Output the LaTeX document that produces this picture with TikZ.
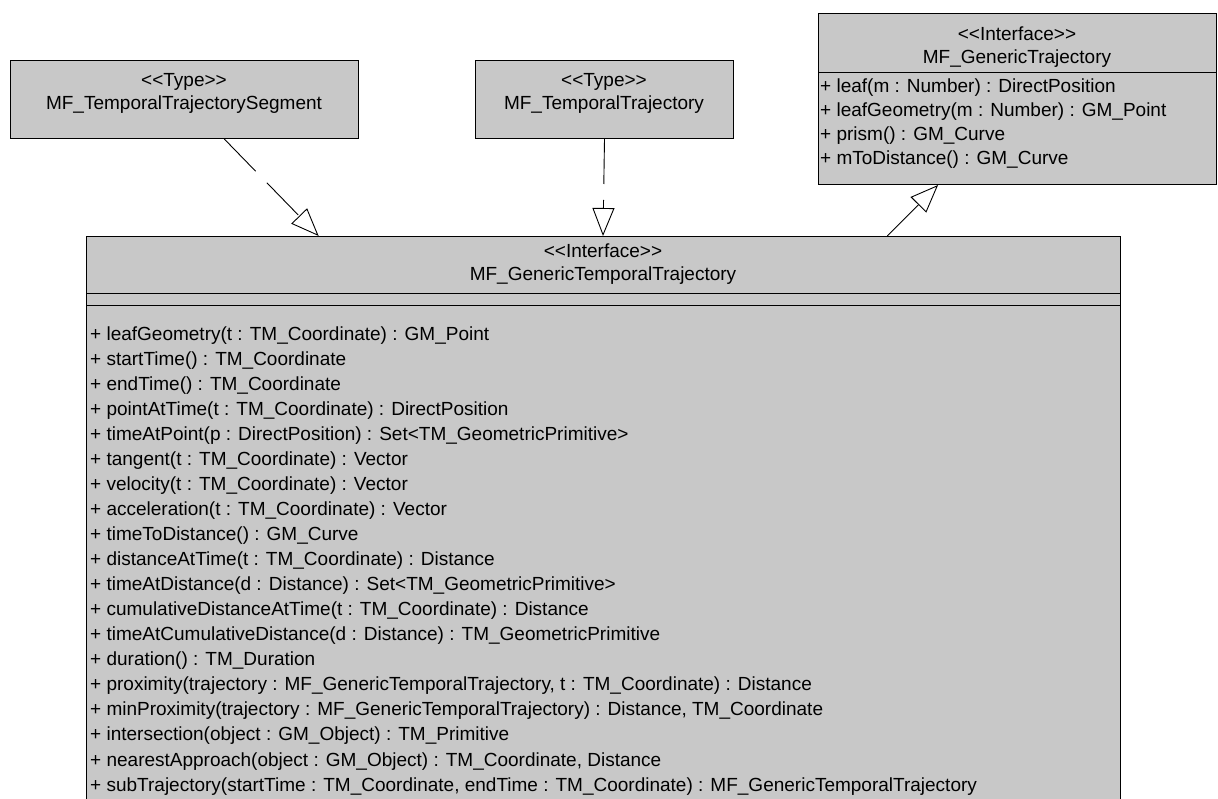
\documentclass[tikz,border=0pt]{standalone}
\usepackage{fontspec}
\setmainfont{Liberation Sans}
\usetikzlibrary{arrows.meta,calc}
\definecolor{boxgray}{RGB}{200,200,200}
\begin{document}
\begin{tikzpicture}[x=1pt,y=-1pt,
  box/.style={draw=black,fill=boxgray,line width=1pt,anchor=north west,inner sep=0pt},
  lbl/.style={font=\fontsize{19pt}{22pt}\selectfont,inner sep=0pt,anchor=base},
  op/.style={font=\fontsize{19pt}{22pt}\selectfont,inner sep=0pt,anchor=base west},
  divider/.style={line width=1pt},
  realize/.style={line width=0.9pt,dash pattern=on 45pt off 16pt,-{Triangle[open,length=28pt,width=22pt,line width=0.9pt]}},
  general/.style={line width=0.9pt,-{Triangle[open,length=28pt,width=22pt,line width=0.9pt]}}]
\useasboundingbox (0,0) rectangle (1218,798);
\clip (0,0) rectangle (1218,798);
% boxes
\node[box,minimum width=348pt,minimum height=78pt] (b1) at (10,60) {};
\node[box,minimum width=258pt,minimum height=78pt] (b2) at (475,60) {};
\node[box,minimum width=398pt,minimum height=171pt] (b3) at (818,13) {};
\fill[boxgray] (86,236) rectangle (1120,805);
\draw[line width=1pt] (86,805) -- (86,236) -- (1120,236) -- (1120,805);
\coordinate (mtl) at (86,236);
\coordinate (mtr) at (1120,236);
% box texts
\node[lbl] (b1s) at (184,86) {<{}<Type>{}>};
\node[lbl] (b1n) at (184,109) {MF\_TemporalTrajectorySegment};
\node[lbl] (b2s) at (604,86) {<{}<Type>{}>};
\node[lbl] (b2n) at (604,109) {MF\_TemporalTrajectory};
\node[lbl] (b3s) at (1017,40) {<{}<Interface>{}>};
\node[lbl] (b3n) at (1017,63) {MF\_GenericTrajectory};
\draw[divider] (818,72) -- (1216,72);
\foreach \t [count=\i from 0] in {%
  + leaf(m : Number) : DirectPosition,
  + leafGeometry(m : Number) : GM\_Point,
  + prism() : GM\_Curve,
  + mToDistance() : GM\_Curve}
  \node[op] (b3o\i) at (820,92+24.3*\i) {\t};
% main box
\node[lbl] (ms) at (603,257) {<{}<Interface>{}>};
\node[lbl] (mn) at (603,280) {MF\_GenericTemporalTrajectory};
\draw[divider] (86,293) -- (1120,293);
\draw[divider] (86,305) -- (1120,305);
\foreach \t [count=\i from 0] in {%
  + leafGeometry(t : TM\_Coordinate) : GM\_Point,
  + startTime() : TM\_Coordinate,
  + endTime() : TM\_Coordinate,
  + pointAtTime(t : TM\_Coordinate) : DirectPosition,
  + timeAtPoint(p : DirectPosition) : Set<TM\_GeometricPrimitive>,
  + tangent(t : TM\_Coordinate) : Vector,
  + velocity(t : TM\_Coordinate) : Vector,
  + acceleration(t : TM\_Coordinate) : Vector,
  + timeToDistance() : GM\_Curve,
  + distanceAtTime(t : TM\_Coordinate) : Distance,
  + timeAtDistance(d : Distance) : Set<TM\_GeometricPrimitive>,
  + cumulativeDistanceAtTime(t : TM\_Coordinate) : Distance,
  + timeAtCumulativeDistance(d : Distance) : TM\_GeometricPrimitive,
  + duration() : TM\_Duration,
  + proximity(trajectory : MF\_GenericTemporalTrajectory{,} t : TM\_Coordinate) : Distance,
  + minProximity(trajectory : MF\_GenericTemporalTrajectory) : Distance{,} TM\_Coordinate,
  + intersection(object : GM\_Object) : TM\_Primitive,
  + nearestApproach(object : GM\_Object) : TM\_Coordinate{,} Distance,
  + subTrajectory(startTime : TM\_Coordinate{,} endTime : TM\_Coordinate) : MF\_GenericTemporalTrajectory}
  \node[op] (mo\i) at (90,340+25.06*\i) {\t};
% connectors
\coordinate (a1s) at ($(b1.south west)!0.614!(b1.south east)$);
\coordinate (a1e) at ($(mtl)!0.225!(mtr)$);
\draw[realize] (a1s) -- (a1e);
\coordinate (a2e) at ($(mtl)!0.5!(mtr)$);
\draw[realize] (b2.south) -- (a2e);
\coordinate (a3s) at ($(mtl)!0.775!(mtr)$);
\coordinate (a3e) at ($(b3.south west)!0.301!(b3.south east)$);
\draw[general] (a3s) -- (a3e);
\end{tikzpicture}
\end{document}
